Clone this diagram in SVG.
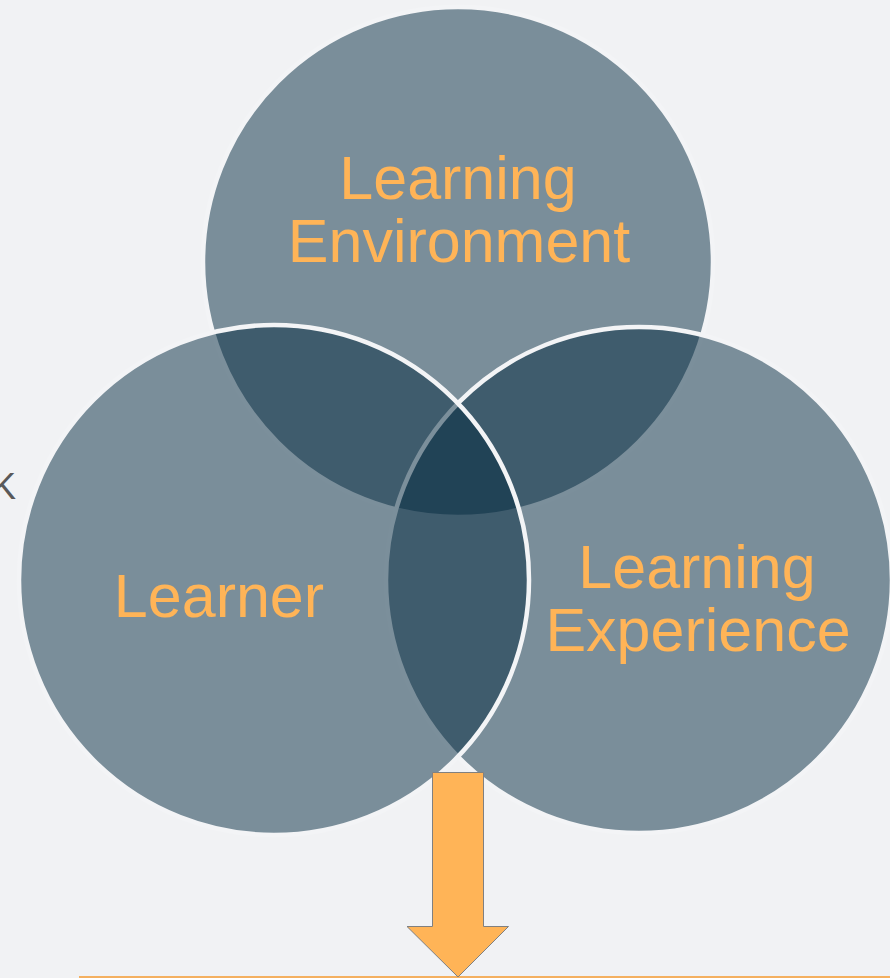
<svg xmlns="http://www.w3.org/2000/svg" width="890" height="978" viewBox="0 0 890 978">
<style>
.c{fill:#032A40;fill-opacity:0.5;stroke:#F3F4F6;stroke-width:4.5}
.t{font-family:"Liberation Sans",Arial,sans-serif;font-size:61px;fill:#FFB457;text-anchor:middle}
.k{font-family:"Liberation Sans",Arial,sans-serif;font-size:36px;fill:#595959}
</style>
<rect width="890" height="978" fill="#F1F2F4"/>
<text class="k" x="-8" y="499">K</text>
<g id="environment">
<circle class="c" cx="458" cy="262" r="255"/>
<text class="t" x="458" y="199">Learning</text>
<text class="t" x="459" y="262">Environment</text>
</g>
<g id="experience">
<circle class="c" cx="639" cy="580" r="253"/>
<text class="t" x="697" y="588">Learning</text>
<text class="t" x="698" y="651">Experience</text>
</g>
<g id="learner">
<circle class="c" cx="274" cy="580" r="255"/>
<text class="t" x="219" y="617">Learner</text>
</g>
<g id="connectors">
<line x1="79" y1="977" x2="890" y2="977" stroke="#F4B060" stroke-width="2"/>
<polygon points="432.5,772.5 483.5,772.5 483.5,926.5 508.5,926.5 458,977 407,926.5 432.5,926.5" fill="#FFB457" stroke="#808080" stroke-width="1"/>
</g>
</svg>
